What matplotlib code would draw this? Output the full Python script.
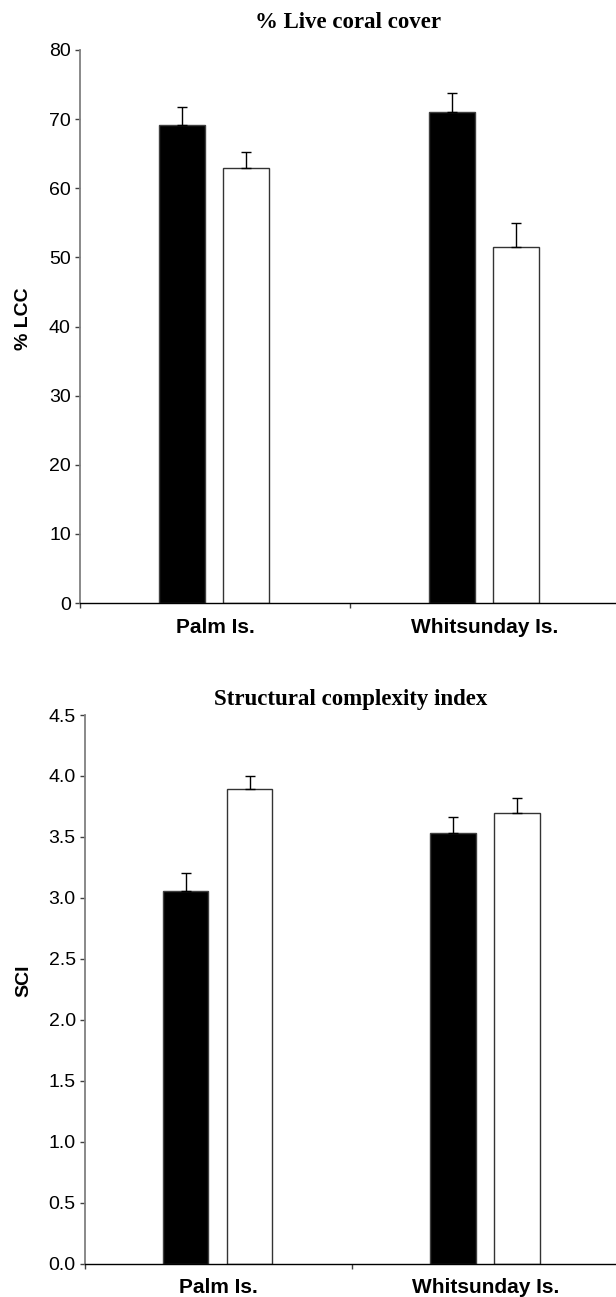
#!/usr/bin/env python3
"""Live coral cover and structural complexity, Palm vs Whitsunday islands."""

import matplotlib

matplotlib.use("Agg")
import matplotlib.pyplot as plt
import numpy as np

plt.rcParams["font.family"] = ["Liberation Sans", "DejaVu Sans"]

sites = ["Palm Is.", "Whitsunday Is."]

# black bars / white bars, means and upper error
lcc_black = [69.2, 71.0]
lcc_black_err = [2.5, 2.8]
lcc_white = [63.0, 51.5]
lcc_white_err = [2.3, 3.5]

sci_black = [3.06, 3.53]
sci_black_err = [0.14, 0.13]
sci_white = [3.89, 3.70]
sci_white_err = [0.11, 0.12]

lcc_ticks = [0, 10, 20, 30, 40, 50, 60, 70, 80]
sci_ticks = [0.0, 0.5, 1.0, 1.5, 2.0, 2.5, 3.0, 3.5, 4.0, 4.5]

W, H = 616, 1297


def draw_panel(ax, black, black_err, white, white_err, ticks, fmt, title, ylabel,
               xmax, title_pad, label_x):
    x = np.arange(len(sites))
    width = 0.17
    ax.bar(x - 0.123, black, width, color="black", edgecolor="#404040",
           linewidth=1, zorder=2)
    ax.bar(x + 0.116, white, width, color="white", edgecolor="#333333",
           linewidth=1, zorder=2)
    ax.errorbar(x - 0.123, black, yerr=[np.zeros(len(x)), black_err], fmt="none",
                ecolor="black", elinewidth=1, capsize=3.6, capthick=1, zorder=3)
    ax.errorbar(x + 0.116, white, yerr=[np.zeros(len(x)), white_err], fmt="none",
                ecolor="black", elinewidth=1, capsize=3.6, capthick=1, zorder=3)

    ax.set_xlim(-0.5, xmax)
    ax.set_ylim(ticks[0], ticks[-1])
    ax.set_yticks(ticks)
    ax.set_yticklabels([fmt.format(t) for t in ticks], fontsize=14)

    ax.set_xticks([-0.5, 0.5])
    ax.set_xticklabels([])
    ax.set_xticks(x, minor=True)
    ax.set_xticklabels(sites, minor=True, fontsize=15, fontweight="bold")
    ax.tick_params(axis="x", which="major", length=3.6, width=1, color="#404040")
    ax.tick_params(axis="x", which="minor", length=0, pad=10.5)
    ax.tick_params(axis="y", length=3.6, width=1, color="#404040", pad=3)

    for side in ("top", "right"):
        ax.spines[side].set_visible(False)
    ax.spines["left"].set_color("#808080")
    ax.spines["left"].set_linewidth(1.3)
    ax.spines["bottom"].set_color("black")
    ax.spines["bottom"].set_linewidth(1)

    ax.set_title(title, fontsize=16.5, fontweight="bold",
                 family=["Liberation Serif", "DejaVu Serif"], pad=title_pad)
    ax.set_ylabel(ylabel, fontsize=14, fontweight="bold")
    ax.yaxis.set_label_coords(label_x, 0.515)


def main():
    fig = plt.figure(figsize=(W / 100, H / 100), dpi=100)

    ax1 = fig.add_axes([80 / W, 1 - 603 / H, 536 / W, 553 / H])
    draw_panel(ax1, lcc_black, lcc_black_err, lcc_white, lcc_white_err,
               lcc_ticks, "{:.0f}", "% Live coral cover", "% LCC",
               -0.5 + 536 / 270, 15.5, -0.09)

    ax2 = fig.add_axes([85 / W, 1 - 1263.5 / H, 531 / W, 548.5 / H])
    draw_panel(ax2, sci_black, sci_black_err, sci_white, sci_white_err,
               sci_ticks, "{:.1f}", "Structural complexity index", "SCI",
               -0.5 + 531 / 267.3, 7, -0.1)

    fig.savefig("out.png", dpi=100)
    plt.close(fig)


if __name__ == "__main__":
    main()
